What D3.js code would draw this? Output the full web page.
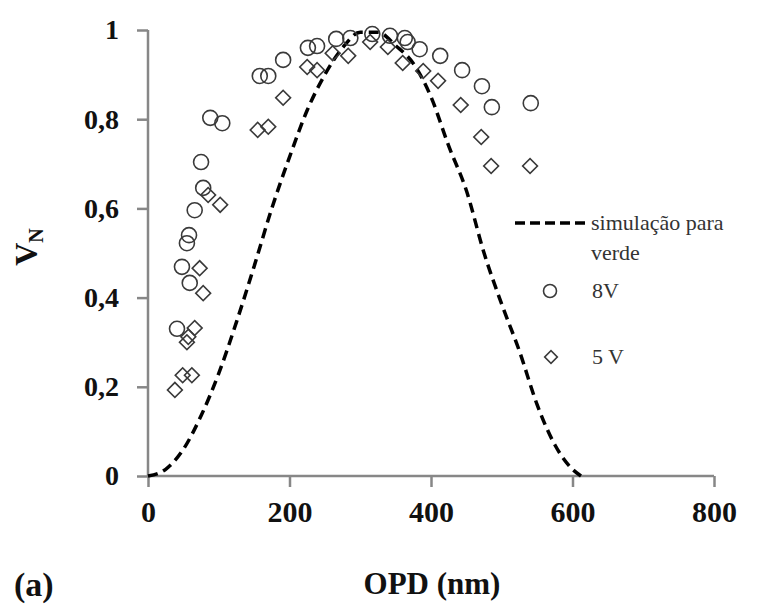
<html>
<head>
  <script src="https://cdn.jsdelivr.net/npm/d3@7/dist/d3.min.js"></script>
</head>
<style>
  body { margin: 0; background: #fff; }
  text { font-family: "Liberation Serif", "Times New Roman", serif; }
</style>
<body>
  <svg id="chart"></svg>
  <script type="text/javascript">
    // simulation curve
    var simOpd = [0, 25, 50, 75, 100, 125, 150, 175, 200, 225, 250, 275, 300, 325, 350, 375, 400, 425, 450, 475, 500, 525, 550, 575, 600, 612];
    var simV   = [0, 0.015, 0.06, 0.135, 0.23, 0.345, 0.47, 0.6, 0.715, 0.82, 0.9, 0.96, 0.995, 0.995, 0.965, 0.925, 0.85, 0.74, 0.64, 0.5, 0.385, 0.28, 0.16, 0.07, 0.015, 0];

    // 8V measurements
    var opd8 = [41, 48, 59, 55, 58, 66, 78, 75, 88, 105, 158, 170, 191, 226, 239, 266, 286, 317, 342, 363, 367, 384, 413, 444, 472, 486, 541];
    var v8   = [0.33, 0.469, 0.433, 0.522, 0.54, 0.596, 0.646, 0.704, 0.803, 0.791, 0.897, 0.897, 0.933, 0.96, 0.964, 0.98, 0.982, 0.991, 0.987, 0.982, 0.973, 0.957, 0.942, 0.91, 0.874, 0.827, 0.836];

    // 5 V measurements
    var opd5 = [38, 49, 62, 55, 57, 66, 73, 78, 85, 102, 155, 170, 191, 225, 239, 261, 283, 314, 339, 360, 389, 410, 442, 471, 485, 540];
    var v5   = [0.193, 0.226, 0.226, 0.3, 0.312, 0.332, 0.466, 0.41, 0.63, 0.608, 0.776, 0.783, 0.848, 0.917, 0.91, 0.948, 0.942, 0.973, 0.962, 0.926, 0.908, 0.886, 0.832, 0.76, 0.695, 0.695];

    var xTicks = [0, 200, 400, 600, 800];
    var yTicks = [0, 0.2, 0.4, 0.6, 0.8, 1];

    var W = 758, H = 606;
    var svg = d3.select('#chart').attr('width', W).attr('height', H);

    var x = d3.scaleLinear().domain([0, 800]).range([148, 714]);
    var y = d3.scaleLinear().domain([0, 1]).range([476, 30]);
    var axisColor = '#878787';
    var markColor = '#3a3a3a';

    // axes
    var xAxis = d3.axisBottom(x).tickValues(xTicks).tickSize(11).tickPadding(14)
      .tickFormat(d3.format('d'));
    var gx = svg.append('g').attr('transform', 'translate(0,' + y(0) + ')').call(xAxis);
    gx.select('.domain').attr('d', 'M' + x(0) + ',0H' + x(800)).attr('stroke', axisColor).attr('stroke-width', 2.5);
    gx.selectAll('.tick line').attr('stroke', axisColor).attr('stroke-width', 2.5);
    gx.selectAll('.tick text').attr('font-weight', 'bold')
      .attr('font-size', 30).attr('fill', '#111');

    var yAxis = d3.axisLeft(y).tickValues(yTicks).tickSize(11).tickPadding(18)
      .tickFormat(function (d) { return d === 0 || d === 1 ? d : String(d).replace('.', ','); });
    var gy = svg.append('g').attr('transform', 'translate(' + x(0) + ',0)').call(yAxis);
    gy.select('.domain').attr('d', 'M0,' + y(0) + 'V' + y(1)).attr('stroke', axisColor).attr('stroke-width', 2.5);
    gy.selectAll('.tick line').attr('stroke', axisColor).attr('stroke-width', 2.5);
    gy.selectAll('.tick text').attr('font-weight', 'bold')
      .attr('font-size', 28).attr('fill', '#111');

    // simulation dashed line
    var sim = simOpd.map(function (d, i) { return [d, simV[i]]; });
    var line = d3.line()
      .x(function (d) { return x(d[0]); })
      .y(function (d) { return y(d[1]); })
      .curve(d3.curveMonotoneX);
    svg.append('path')
      .attr('d', line(sim))
      .attr('fill', 'none')
      .attr('stroke', '#000')
      .attr('stroke-width', 3.5)
      .attr('stroke-dasharray', '10,6');

    // 8V circles
    svg.selectAll('circle.v8')
      .data(opd8.map(function (d, i) { return [d, v8[i]]; }))
      .enter()
      .append('circle')
      .attr('class', 'v8')
      .attr('cx', function (d) { return x(d[0]); })
      .attr('cy', function (d) { return y(d[1]); })
      .attr('r', 7.5)
      .attr('fill', 'none')
      .attr('stroke', markColor)
      .attr('stroke-width', 1.6);

    // 5 V diamonds
    var diamond = d3.symbol().type(d3.symbolSquare).size(110);
    svg.selectAll('path.v5')
      .data(opd5.map(function (d, i) { return [d, v5[i]]; }))
      .enter()
      .append('path')
      .attr('class', 'v5')
      .attr('d', diamond)
      .attr('transform', function (d) { return 'translate(' + x(d[0]) + ',' + y(d[1]) + ') rotate(45)'; })
      .attr('fill', 'none')
      .attr('stroke', markColor)
      .attr('stroke-width', 1.6);

    // legend
    var leg = svg.append('g');
    leg.append('line')
      .attr('x1', 515).attr('x2', 590).attr('y1', 223).attr('y2', 223)
      .attr('stroke', '#000').attr('stroke-width', 3.5).attr('stroke-dasharray', '10,5');
    leg.append('text').attr('x', 591).attr('y', 230).attr('font-size', 22).attr('fill', '#333')
      .text('simulação para');
    leg.append('text').attr('x', 591).attr('y', 260).attr('font-size', 22).attr('fill', '#333')
      .text('verde');
    leg.append('circle').attr('cx', 550).attr('cy', 291).attr('r', 6.5)
      .attr('fill', 'none').attr('stroke', markColor).attr('stroke-width', 1.6);
    leg.append('text').attr('x', 592).attr('y', 298).attr('font-size', 22).attr('fill', '#333')
      .text('8V');
    leg.append('path').attr('d', d3.symbol().type(d3.symbolSquare).size(80))
      .attr('transform', 'translate(551,357) rotate(45)')
      .attr('fill', 'none').attr('stroke', markColor).attr('stroke-width', 1.6);
    leg.append('text').attr('x', 592).attr('y', 364).attr('font-size', 22).attr('fill', '#333')
      .text('5 V');

    // axis titles
    svg.append('text')
      .attr('x', 432).attr('y', 594)
      .attr('text-anchor', 'middle')
      .attr('font-weight', 'bold').attr('font-size', 31).attr('fill', '#111')
      .text('OPD (nm)');
    var yl = svg.append('text')
      .attr('transform', 'translate(37,247) rotate(-90)')
      .attr('text-anchor', 'middle')
      .attr('font-weight', 'bold').attr('font-size', 32).attr('fill', '#111');
    yl.append('tspan').text('V');
    yl.append('tspan').attr('font-size', 20).attr('dy', 6).text('N');
    svg.append('text')
      .attr('x', 14).attr('y', 596)
      .attr('font-weight', 'bold').attr('font-size', 34).attr('fill', '#111')
      .text('(a)');
  </script>
</body>
</html>
